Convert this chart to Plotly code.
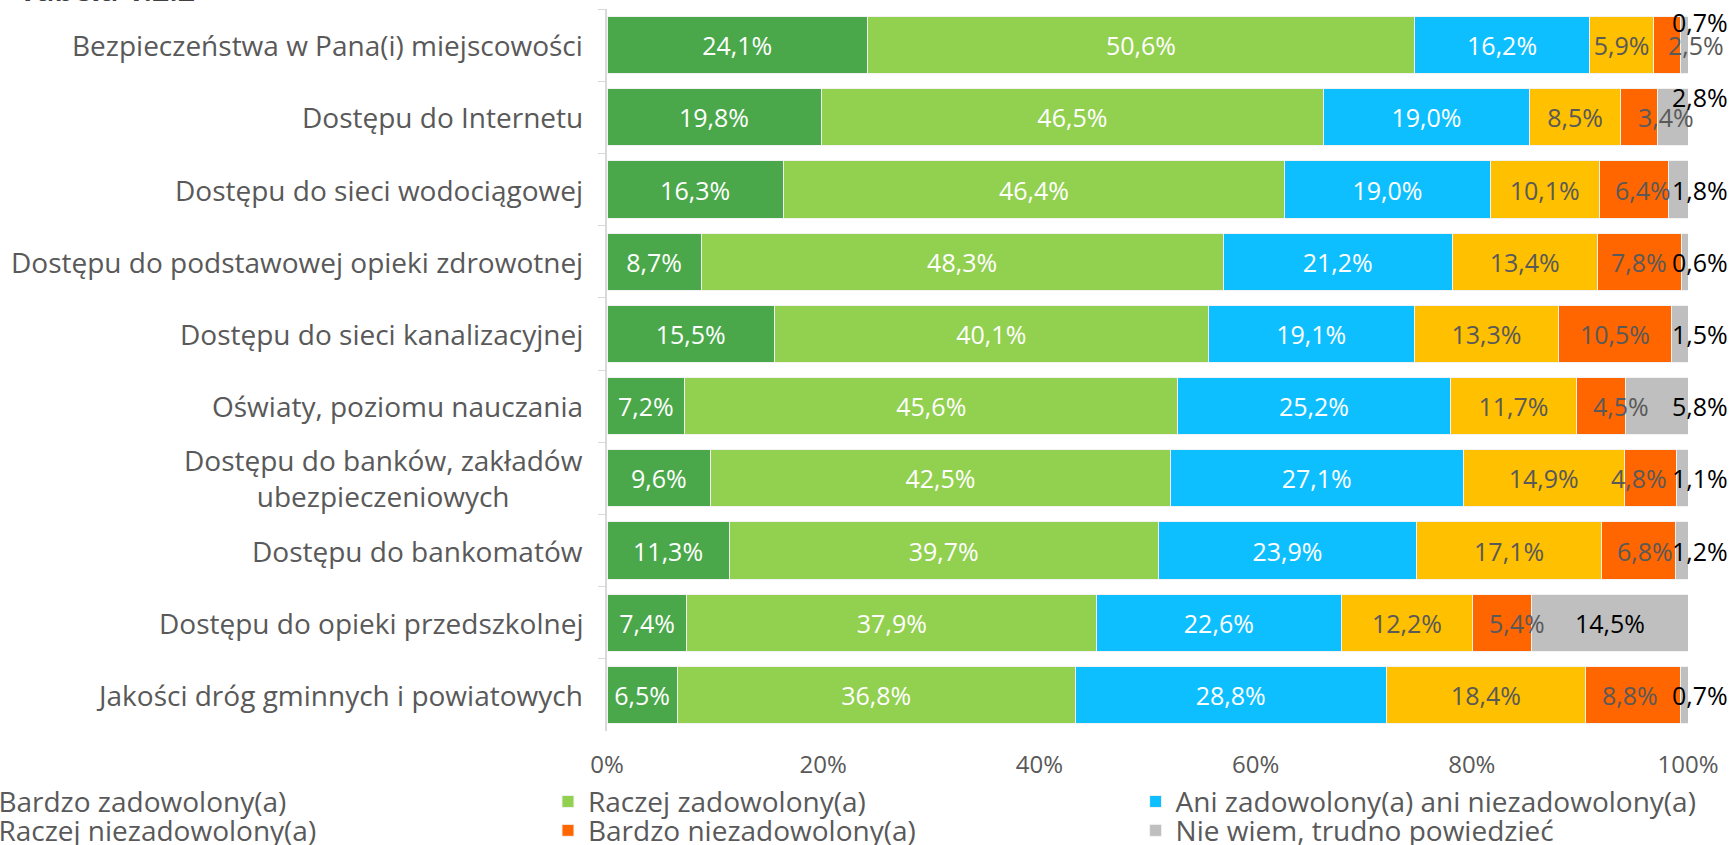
import plotly.graph_objects as go

categories = [
    "Bezpieczeństwa w Pana(i) miejscowości",
    "Dostępu do Internetu",
    "Dostępu do sieci wodociągowej",
    "Dostępu do podstawowej opieki zdrowotnej",
    "Dostępu do sieci kanalizacyjnej",
    "Oświaty, poziomu nauczania",
    "Dostępu do banków, zakładów<br>ubezpieczeniowych",
    "Dostępu do bankomatów",
    "Dostępu do opieki przedszkolnej",
    "Jakości dróg gminnych i powiatowych",
]

bardzo_zad = [24.1, 19.8, 16.3, 8.7, 15.5, 7.2, 9.6, 11.3, 7.4, 6.5]
raczej_zad = [50.6, 46.5, 46.4, 48.3, 40.1, 45.6, 42.5, 39.7, 37.9, 36.8]
ani_ani = [16.2, 19.0, 19.0, 21.2, 19.1, 25.2, 27.1, 23.9, 22.6, 28.8]
raczej_niezad = [5.9, 8.5, 10.1, 13.4, 13.3, 11.7, 14.9, 17.1, 12.2, 18.4]
bardzo_niezad = [2.5, 3.4, 6.4, 7.8, 10.5, 4.5, 4.8, 6.8, 5.4, 8.8]
nie_wiem = [0.7, 2.8, 1.8, 0.6, 1.5, 5.8, 1.1, 1.2, 14.5, 0.7]

tick_vals = [0, 20, 40, 60, 80, 100]
tick_text = ["0%", "20%", "40%", "60%", "80%", "100%"]

series = [
    ("Bardzo zadowolony(a)", bardzo_zad, "#4AA84A", "white"),
    ("Raczej zadowolony(a)", raczej_zad, "#92D050", "white"),
    ("Ani zadowolony(a) ani niezadowolony(a)", ani_ani, "#0DBFFF", "white"),
    ("Raczej niezadowolony(a)", raczej_niezad, "#FFC000", "#595959"),
    ("Bardzo niezadowolony(a)", bardzo_niezad, "#FF6600", "#595959"),
    ("Nie wiem, trudno powiedzieć", nie_wiem, "#BFBFBF", "black"),
]

FONT = "Open Sans"
GREY = "#595959"
LBL = 25     # data labels
TXT = 28     # category labels, legend

# hand-placed label nudges (px) for the narrow orange segments, as in the original
orange_nudge = [29, 27, 9, 0, 0, 20, -11, 7, 15, -3]
grey_raise = {0: 23, 1: 20}


def pct(v):
    return f"{v:.1f}".replace(".", ",") + "%"


fig = go.Figure()
leg_names = ["legend", "legend2", "legend3", "legend4", "legend5", "legend6"]
for k, ((name, vals, color, tcolor), leg) in enumerate(zip(series, leg_names)):
    inside = k < 4
    fig.add_trace(go.Bar(
        y=categories, x=vals, name=name, orientation="h",
        marker=dict(color=color, line=dict(color="#F2F2F2", width=1)),
        text=[pct(v) for v in vals] if inside else None,
        textposition="inside", insidetextanchor="middle", textangle=0,
        constraintext="none", cliponaxis=False,
        textfont=dict(family=FONT, size=LBL, color=tcolor),
        legend=leg, hoverinfo="skip",
    ))

# orange labels
for i, cat in enumerate(categories):
    left = bardzo_zad[i] + raczej_zad[i] + ani_ani[i] + raczej_niezad[i]
    v = bardzo_niezad[i]
    fig.add_annotation(x=left + v / 2, y=cat, text=pct(v), showarrow=False,
                       xanchor="center", xshift=orange_nudge[i],
                       font=dict(family=FONT, size=LBL, color=GREY))

# labels of the last series: small ones sit at the right edge
for i, (cat, v) in enumerate(zip(categories, nie_wiem)):
    if v > 10:
        fig.add_annotation(x=100 - v / 2, y=cat, text=pct(v), showarrow=False,
                           xanchor="center", font=dict(family=FONT, size=LBL, color="black"))
    else:
        fig.add_annotation(x=100, y=cat, text=pct(v), showarrow=False, xanchor="right",
                           xshift=42, yshift=grey_raise.get(i, 0),
                           font=dict(family=FONT, size=LBL, color="black"))

# category labels
for cat in categories:
    fig.add_annotation(x=0, xref="paper", y=cat, text=cat, showarrow=False,
                       xanchor="right", align="center", xshift=-22,
                       font=dict(family=FONT, size=TXT, color=GREY))

# cut-off title at the very top
fig.add_annotation(x=0, xref="paper", xanchor="left", xshift=-590,
                   y=1, yref="paper", yanchor="bottom", yshift=-3,
                   text="<b>Tabela 1.2.2</b>", showarrow=False,
                   font=dict(family=FONT, size=30, color="#404040"))

# one legend per entry, laid out as 3 columns x 2 rows
col_x = [-0.600, -0.0546, 0.489]
row_y = [-0.098, -0.138]
legends = {}
for k, leg in enumerate(leg_names):
    legends[leg] = dict(x=col_x[k % 3], y=row_y[k // 3], xanchor="left", yanchor="middle",
                        orientation="v", font=dict(family=FONT, size=TXT, color=GREY),
                        bgcolor="rgba(0,0,0,0)", traceorder="normal")

fig.update_layout(
    barmode="stack",
    width=1733, height=845,
    margin=dict(l=607, r=45, t=9, b=114, autoexpand=False),
    paper_bgcolor="white", plot_bgcolor="white",
    bargap=0.21,
    showlegend=True,
    xaxis=dict(range=[0, 100], tickvals=tick_vals, ticktext=tick_text,
               showgrid=False, zeroline=False, showline=False, ticks="",
               ticklabelstandoff=17,
               tickfont=dict(family=FONT, size=24, color=GREY)),
    yaxis=dict(autorange="reversed", showticklabels=False, showgrid=False,
               showline=True, linecolor="#D9D9D9", linewidth=1.5,
               ticks="outside", tickson="boundaries", ticklen=7, tickcolor="#D9D9D9",
               zeroline=False),
    **legends,
)

fig.write_html("out.html", config={"displayModeBar": False},
               post_script="document.body.style.margin='0px';")
